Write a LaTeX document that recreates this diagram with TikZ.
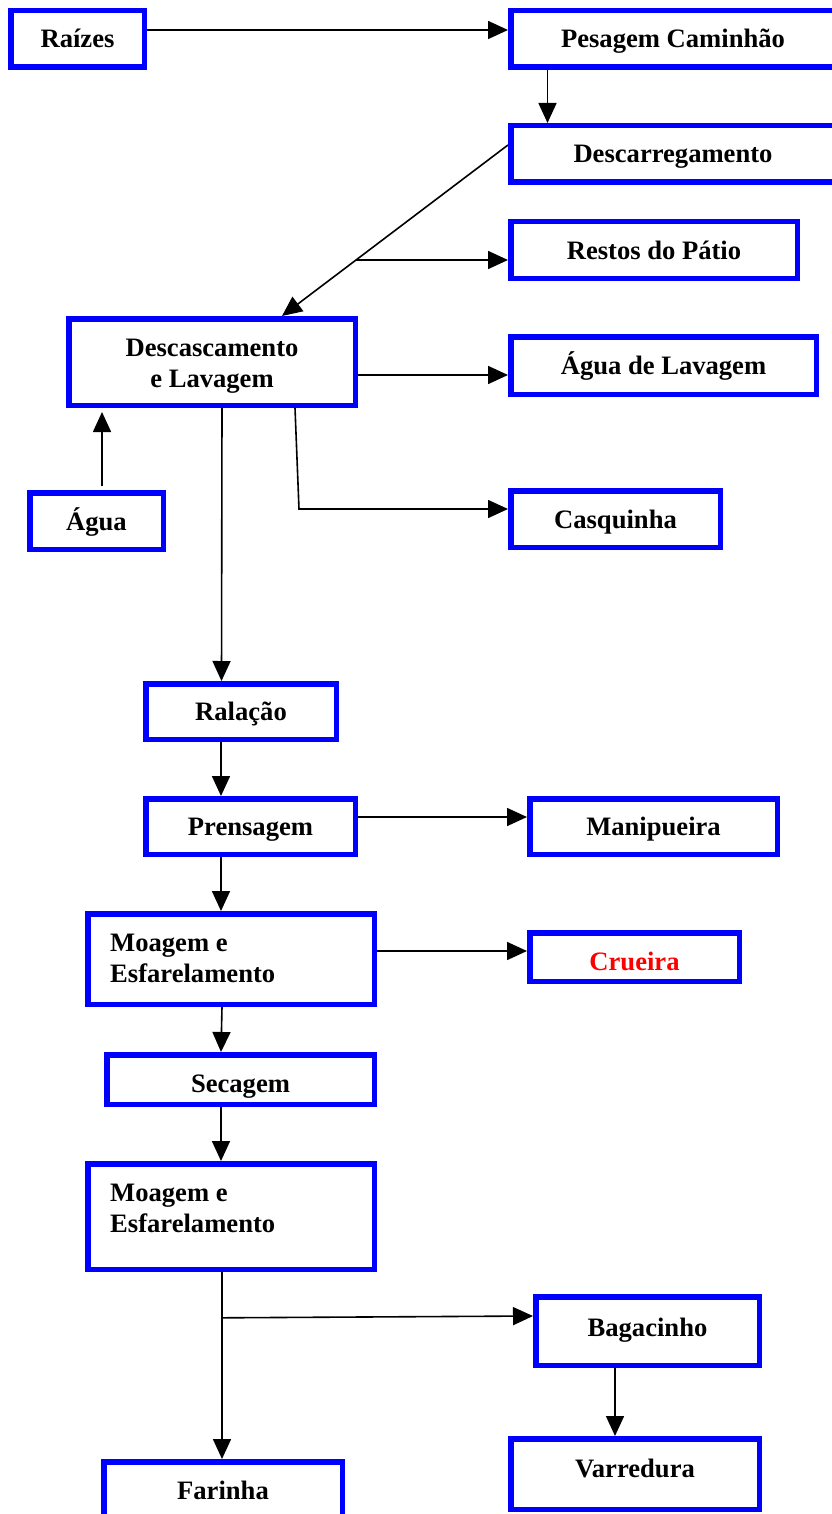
\documentclass[tikz,border=0pt]{standalone}
\usepackage{fontspec}
\setmainfont{Liberation Serif}
\usetikzlibrary{arrows.meta,calc}
\definecolor{boxblue}{RGB}{0,0,255}
\definecolor{cred}{RGB}{255,0,0}
\begin{document}
\begin{tikzpicture}[x=1pt,y=-1pt,
  box/.style={draw=boxblue, line width=5.5pt, fill=white, inner sep=0pt,
    font=\fontsize{26.6}{31}\selectfont\bfseries, align=center},
  one/.style={box, text height=18pt, text depth=0pt},
  lbl/.style={inner sep=0pt, font=\fontsize{26.6}{31}\selectfont\bfseries, align=left},
  arr/.style={line width=1.6pt, -{Triangle[length=20pt,width=18pt]}}]
\useasboundingbox (0,0) rectangle (831,1514);
\fill[white] (0,0) rectangle (831,1514);

% boxes
\node[one, minimum width=133.5pt, minimum height=56.5pt] (raiz) at (77.5,39) {Raízes};
\node[one, minimum width=324.5pt, minimum height=56.5pt] (pes) at (673,39) {Pesagem Caminhão};
\node[one, minimum width=324.5pt, minimum height=56.5pt] (desc) at (673,154) {Descarregamento};
\node[one, minimum width=286.5pt, minimum height=56.5pt] (rest) at (654,250) {Restos do Pátio};
\node[box, minimum width=286.5pt, minimum height=86.5pt] (dl) at (212,362) {\rule{0pt}{26pt}Descascamento\\e Lavagem};
\node[one, minimum width=305.5pt, minimum height=57.5pt] (agl) at (663.5,365.5) {Água de Lavagem};
\node[one, minimum width=133.5pt, minimum height=56.5pt] (agua) at (96.5,521) {Água};
\node[one, minimum width=209.5pt, minimum height=56.5pt] (casq) at (615.5,519) {Casquinha};
\node[one, minimum width=190.5pt, minimum height=55.5pt] (ral) at (241,711.5) {Ralação};
\node[one, minimum width=209.5pt, minimum height=55.5pt] (pren) at (250.5,826.5) {Prensagem};
\node[one, minimum width=247.5pt, minimum height=55.5pt] (mani) at (653.5,826.5) {Manipueira};
\node[box, minimum width=286.5pt, minimum height=90.5pt] (mo1) at (231,959) {};
\node[lbl, anchor=west] (mo1t) at (110,958) {Moagem e\\Esfarelamento};
\node[one, text=cred, text height=26pt, minimum width=209.5pt, minimum height=48.5pt] (crue) at (634.5,957) {Crueira};
\node[one, text height=25pt, minimum width=267.5pt, minimum height=49.5pt] (sec) at (240.5,1079.5) {Secagem};
\node[box, minimum width=286.5pt, minimum height=105.5pt] (mo2) at (231,1216.5) {};
\node[lbl, anchor=west] (mo2t) at (110,1208) {Moagem e\\Esfarelamento};
\node[one, text depth=8pt, minimum width=223.5pt, minimum height=68.5pt] (bag) at (647.5,1331) {Bagacinho};
\node[one, minimum width=238.5pt, minimum height=56.5pt] (far) at (223,1490) {Farinha};
\node[one, text depth=12pt, minimum width=248.5pt, minimum height=70.5pt] (var) at (635,1474) {Varredura};

% connectors
\draw[arr] ([yshift=9pt]raiz.east) -- ([yshift=9pt]pes.west);
\draw[arr] ([xshift=-125.5pt]pes.south) -- ([xshift=-125.5pt]desc.north);
\coordinate (d0) at ([yshift=9pt]desc.west);
\draw[arr] (d0) -- coordinate[pos=0.6725] (br1) ([xshift=70pt]dl.north);
\draw[arr] (br1) -- (br1 -| rest.west);
\coordinate (a1) at ([yshift=-13pt]dl.east);
\draw[arr] (a1) -- (a1 -| agl.west);
\coordinate (c1) at (299,509);
\draw[arr] ([xshift=83pt]dl.south) -- (c1) -- (c1 -| casq.west);
\draw[arr] ([xshift=10pt]dl.south) -- ([xshift=-19.5pt]ral.north);
\draw[arr] ([xshift=5.5pt,yshift=4pt]agua.north) -- ([xshift=-110pt,yshift=-4pt]dl.south);
\draw[arr] ([xshift=-20pt]ral.south) -- ([xshift=-29.5pt]pren.north);
\coordinate (p1) at ([yshift=9.5pt]pren.east);
\draw[arr] (p1) -- (p1 -| mani.west);
\draw[arr] ([xshift=-29.5pt]pren.south) -- ([xshift=-10pt]mo1.north);
\coordinate (m1) at ([yshift=8pt]mo1.east);
\draw[arr] (m1) -- (m1 -| crue.west);
\draw[arr] ([xshift=-9pt]mo1.south) -- ([xshift=-19.5pt]sec.north);
\draw[arr] ([xshift=-19.5pt]sec.south) -- ([xshift=-10pt]mo2.north);
\draw[arr] ([xshift=-9pt]mo2.south) -- coordinate[pos=0.245] (br2) ([xshift=-1pt]far.north);
\draw[arr] (br2) -- ([yshift=15pt]bag.west);
\draw[arr] ([xshift=-32.5pt]bag.south) -- ([xshift=-20pt]var.north);
\end{tikzpicture}
\end{document}
